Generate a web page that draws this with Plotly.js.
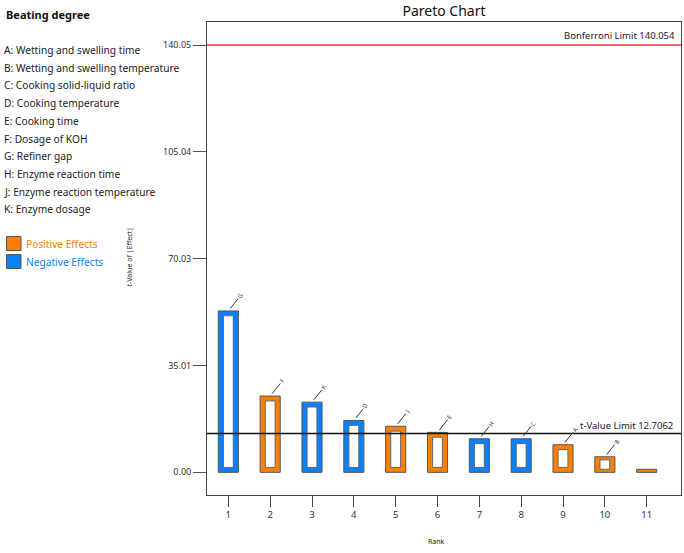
<!DOCTYPE html>
<html>
<head>
<meta charset="utf-8">
<script src="https://cdn.plot.ly/plotly-3.0.1.min.js"></script>
<style>
  html, body { margin: 0; padding: 0; background: #fff; }
  #chart { width: 684px; height: 553px; }
</style>
</head>
<body>
<div id="chart"></div>
<script>
// Pareto chart of standardized effects (t-values) for beating degree
const ranks = [1, 2, 3, 4, 5, 6, 7, 8, 9, 10, 11];
const effectLetters = ['G', 'F', 'K', 'D', 'J', 'E', 'H', 'C', 'A', 'B', ''];
const tValues = [52.9, 25.0, 23.0, 17.0, 15.1, 13.1, 11.0, 11.0, 9.05, 5.1, 1.0];
const effectSign = ['neg', 'pos', 'neg', 'neg', 'pos', 'pos', 'neg', 'neg', 'pos', 'pos', 'pos'];

const factorNames = [
  'A: Wetting and swelling time',
  'B: Wetting and swelling temperature',
  'C: Cooking solid-liquid ratio',
  'D: Cooking temperature',
  'E: Cooking time',
  'F: Dosage of KOH',
  'G: Refiner gap',
  'H: Enzyme reaction time',
  'J: Enzyme reaction temperature',
  'K: Enzyme dosage'
];

const yTickVals = [0, 35.0135, 70.027, 105.0405, 140.054];
const yTickText = ['0.00', '35.01', '70.03', '105.04', '140.05'];

const bonferroniLimit = 140.054;
const tValueLimit = 12.7062;

const responseName = 'Beating degree';

const ORANGE = '#ff8000';
const BLUE = '#0a80fa';
const FONT = 'Noto Sans, Open Sans, sans-serif';

// plot-area geometry (pixels) used to place the side panel in paper units
const W = 684, H = 553;
const M = { l: 207, r: 3, t: 22, b: 58 };
const PW = W - M.l - M.r, PH = H - M.t - M.b;
const px = x => (x - M.l) / PW;
const py = y => (M.t + PH - y) / PH;

const barColors = effectSign.map(s => s === 'pos' ? ORANGE : BLUE);

// outer coloured bars
const outer = {
  type: 'bar',
  x: ranks,
  y: tValues,
  width: 0.48,
  marker: { color: barColors, line: { color: '#555', width: 1 } },
  hoverinfo: 'skip'
};

// white hollow centre of each bar
const inset = tValues.map(v => Math.min(1.6, v * 0.2));
const innerX = [], innerY = [], innerBase = [];
tValues.forEach((v, i) => {
  if (v >= 2) {
    innerX.push(ranks[i]);
    innerBase.push(inset[i]);
    innerY.push(v - 2 * inset[i]);
  }
});
const inner = {
  type: 'bar',
  x: innerX,
  y: innerY,
  base: innerBase,
  width: 0.235,
  marker: { color: '#ffffff', line: { color: '#666', width: 1 } },
  hoverinfo: 'skip'
};

const annotations = [];

// effect letters with leader lines above each bar
tValues.forEach((v, i) => {
  if (!effectLetters[i]) return;
  annotations.push({
    x: ranks[i], y: v, xref: 'x', yref: 'y',
    text: effectLetters[i],
    showarrow: true, arrowhead: 0, arrowwidth: 1, arrowcolor: '#333',
    ax: 12, ay: -15, standoff: 3,
    textangle: -60,
    font: { family: FONT, size: 6, color: '#333' }
  });
});

// limit labels
annotations.push({
  xref: 'paper', yref: 'y', x: 1, y: bonferroniLimit,
  xanchor: 'right', yanchor: 'bottom', xshift: -4, yshift: 1,
  text: 'Bonferroni Limit ' + bonferroniLimit, showarrow: false,
  font: { family: FONT, size: 9.5, color: '#222' }
});
annotations.push({
  xref: 'paper', yref: 'y', x: 1, y: tValueLimit,
  xanchor: 'right', yanchor: 'bottom', xshift: -6, yshift: 0,
  text: 't-Value Limit ' + tValueLimit, showarrow: false,
  font: { family: FONT, size: 9.5, color: '#222' }
});

// axis titles
annotations.push({
  xref: 'paper', yref: 'paper', x: px(122), y: py(257),
  text: 't-Value of |Effect|', textangle: -90, showarrow: false,
  font: { family: FONT, size: 7, color: '#222' }
});
annotations.push({
  xref: 'paper', yref: 'paper', x: px(436), y: py(548),
  text: 'Rank', showarrow: false,
  font: { family: FONT, size: 7, color: '#222' }
});

// side panel: response name and factor list
annotations.push({
  xref: 'paper', yref: 'paper', x: px(4), y: py(14),
  xanchor: 'left', yanchor: 'middle',
  text: '<b>' + responseName + '</b>', showarrow: false,
  font: { family: FONT, size: 11, color: '#111' }
});
factorNames.forEach((name, i) => {
  annotations.push({
    xref: 'paper', yref: 'paper', x: px(2), y: py(50 + i * 17.7),
    xanchor: 'left', yanchor: 'middle',
    text: name, showarrow: false,
    font: { family: FONT, size: 10.2, color: '#222' }
  });
});
annotations.push({
  xref: 'paper', yref: 'paper', x: px(24), y: py(244),
  xanchor: 'left', yanchor: 'middle',
  text: 'Positive Effects', showarrow: false,
  font: { family: FONT, size: 10.2, color: ORANGE }
});
annotations.push({
  xref: 'paper', yref: 'paper', x: px(24), y: py(262),
  xanchor: 'left', yanchor: 'middle',
  text: 'Negative Effects', showarrow: false,
  font: { family: FONT, size: 10.2, color: BLUE }
});

const shapes = [
  // Bonferroni and t-value limit lines
  { type: 'line', xref: 'paper', yref: 'y', x0: 0, x1: 1, y0: bonferroniLimit, y1: bonferroniLimit,
    line: { color: '#ee3a45', width: 1.6 } },
  { type: 'line', xref: 'paper', yref: 'y', x0: 0, x1: 1, y0: tValueLimit, y1: tValueLimit,
    line: { color: '#111', width: 1.4 } },
  // legend swatches
  { type: 'rect', xref: 'paper', yref: 'paper', x0: px(6.5), x1: px(21), y0: py(250.5), y1: py(236.5),
    fillcolor: ORANGE, line: { color: '#555', width: 1 } },
  { type: 'rect', xref: 'paper', yref: 'paper', x0: px(6.5), x1: px(21), y0: py(268.5), y1: py(254.5),
    fillcolor: BLUE, line: { color: '#555', width: 1 } }
];

const layout = {
  width: W, height: H,
  margin: M,
  paper_bgcolor: '#fff', plot_bgcolor: '#fff',
  showlegend: false,
  barmode: 'overlay',
  title: {
    text: 'Pareto Chart',
    x: 0.5, xref: 'paper', xanchor: 'center',
    y: 1 - 11 / H, yanchor: 'middle',
    font: { family: FONT, size: 14, color: '#111' }
  },
  xaxis: {
    range: [0.49, 11.82],
    tickvals: ranks,
    ticktext: ranks.map(String),
    ticks: 'outside', ticklen: 11, tickcolor: '#444', tickwidth: 1,
    showgrid: false, zeroline: false,
    showline: true, linecolor: '#444', linewidth: 1, mirror: true,
    tickfont: { family: FONT, size: 9.5, color: '#333' }
  },
  yaxis: {
    range: [-7.43, 147.6],
    tickvals: yTickVals,
    ticktext: yTickText,
    ticks: 'outside', ticklen: 13, tickcolor: '#555', tickwidth: 1,
    showgrid: false, zeroline: false,
    showline: true, linecolor: '#444', linewidth: 1, mirror: true,
    tickfont: { family: FONT, size: 9, color: '#333' }
  },
  annotations: annotations,
  shapes: shapes
};

Plotly.newPlot('chart', [outer, inner], layout, { staticPlot: true, displayModeBar: false });
</script>
</body>
</html>
